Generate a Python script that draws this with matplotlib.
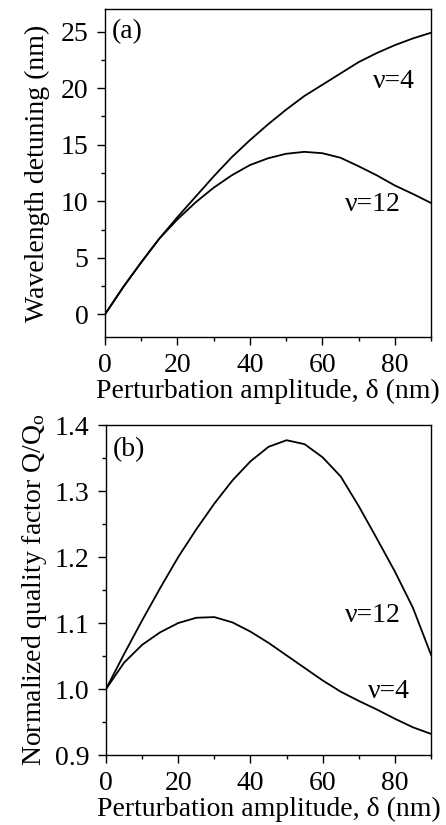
import numpy as np
import matplotlib
matplotlib.use('Agg')
import matplotlib.pyplot as plt
from matplotlib.ticker import MultipleLocator

plt.rcParams['font.family'] = ['Liberation Serif', 'DejaVu Serif']
plt.rcParams['mathtext.fontset'] = 'custom'
plt.rcParams['mathtext.rm'] = 'Liberation Serif'
plt.rcParams['mathtext.it'] = 'Liberation Serif:italic'

# perturbation amplitude (nm)
delta = [0, 5, 10, 15, 20, 25, 30, 35, 40, 45, 50, 55, 60, 65, 70, 75, 80, 85, 90]

# (a) wavelength detuning (nm)
detune_v4 = [0, 2.4, 4.6, 6.7, 8.6, 10.4, 12.2, 13.9, 15.4, 16.8, 18.1, 19.3, 20.3,
             21.3, 22.3, 23.1, 23.8, 24.4, 24.9]
detune_v12 = [0, 2.4, 4.6, 6.7, 8.4, 9.9, 11.2, 12.3, 13.2, 13.8, 14.2, 14.37, 14.25,
              13.85, 13.1, 12.3, 11.4, 10.65, 9.85]

# (b) normalized quality factor Q/Q0
q_v12 = [1.0, 1.053, 1.104, 1.153, 1.200, 1.242, 1.281, 1.316, 1.345, 1.367, 1.377,
         1.371, 1.351, 1.322, 1.277, 1.228, 1.178, 1.123, 1.052]
q_v4 = [1.0, 1.040, 1.067, 1.086, 1.100, 1.108, 1.109, 1.101, 1.087, 1.070, 1.051,
        1.032, 1.013, 0.996, 0.982, 0.969, 0.955, 0.942, 0.932]

FS = 20


def style_axes(ax):
    ax.set_xlim(0, 90)
    ax.xaxis.set_major_locator(MultipleLocator(20))
    ax.xaxis.set_minor_locator(MultipleLocator(10))
    ax.tick_params(which='major', direction='out', length=5.8, width=1, labelsize=FS, pad=6)
    ax.tick_params(which='minor', direction='out', length=3, width=1)
    for s in ax.spines.values():
        s.set_linewidth(1.0)
    ax.set_xlabel('Perturbation amplitude, δ (nm)', fontsize=FS, labelpad=0)


fig = plt.figure(figsize=(4.46, 8.25), dpi=100)
fig.patch.set_facecolor('white')

ax1 = fig.add_axes([0.2354, 0.5915, 0.731, 0.3976])
ax1.plot(delta, detune_v4, color='black', lw=1.3)
ax1.plot(delta, detune_v12, color='black', lw=1.3)
ax1.set_ylim(-2, 27)
ax1.yaxis.set_major_locator(MultipleLocator(5))
ax1.yaxis.set_minor_locator(MultipleLocator(2.5))
style_axes(ax1)
ax1.set_ylabel('Wavelength detuning (nm)', fontsize=FS, labelpad=8)
ax1.text(0.022, 0.97, '(a)', transform=ax1.transAxes, fontsize=FS, va='top', ha='left')
ax1.text(74, 20.6, 'ν=4', fontsize=FS, va='center', ha='left')
ax1.text(66.3, 9.7, 'ν=12', fontsize=FS, va='center', ha='left')

ax2 = fig.add_axes([0.2377, 0.0848, 0.7287, 0.400])
ax2.plot(delta, q_v12, color='black', lw=1.3)
ax2.plot(delta, q_v4, color='black', lw=1.3)
ax2.set_ylim(0.9, 1.4)
ax2.yaxis.set_major_locator(MultipleLocator(0.1))
ax2.yaxis.set_minor_locator(MultipleLocator(0.05))
style_axes(ax2)
ax2.set_ylabel('Normalized quality factor Q/Q$_\\mathrm{o}$', fontsize=FS, labelpad=4)
ax2.text(0.022, 0.963, '(b)', transform=ax2.transAxes, fontsize=FS, va='top', ha='left')
ax2.text(66.2, 1.111, 'ν=12', fontsize=FS, va='center', ha='left')
ax2.text(72.6, 0.997, 'ν=4', fontsize=FS, va='center', ha='left')

fig.savefig('out.png', dpi=100, facecolor='white')
